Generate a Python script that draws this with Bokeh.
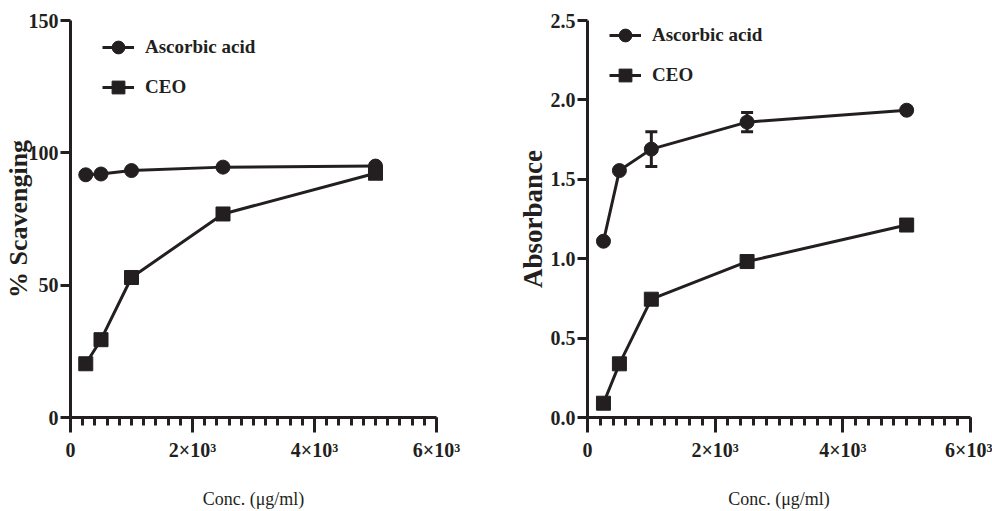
from bokeh.plotting import figure
from bokeh.layouts import row
from bokeh.models import Range1d, FixedTicker, Whisker, ColumnDataSource, TeeHead, Legend, LegendItem
from bokeh.embed import file_html
from bokeh.resources import INLINE

# ---- data ----
conc = [250, 500, 1000, 2500, 5000]
scav_aa = [91.7, 92.0, 93.3, 94.6, 95.0]
scav_ceo = [20.3, 29.4, 52.9, 76.9, 92.3]
abs_aa = [1.11, 1.555, 1.69, 1.86, 1.935]
abs_aa_err = [0.0, 0.0, 0.11, 0.06, 0.0]
abs_ceo = [0.09, 0.338, 0.745, 0.982, 1.212]

x_ticks = [0, 2000, 4000, 6000]
x_tick_labels = ["0", "2×10³", "4×10³", "6×10³"]
x_minor = list(range(0, 6001, 200))
left_yticks = [0, 50, 100, 150]
left_ylabels = ["0", "50", "100", "150"]
right_yticks = [0.0, 0.5, 1.0, 1.5, 2.0, 2.5]
right_ylabels = ["0.0", "0.5", "1.0", "1.5", "2.0", "2.5"]

INK = "#231f20"
FONT = "Liberation Serif"


def style(p, yticks, ylabels, ylabel, ylabel_size, ylabel_standoff):
    p.xaxis.ticker = FixedTicker(ticks=x_ticks, minor_ticks=x_minor)
    p.xaxis.major_label_overrides = {t: l for t, l in zip(x_ticks, x_tick_labels)}
    p.yaxis.ticker = FixedTicker(ticks=yticks, minor_ticks=[])
    p.yaxis.major_label_overrides = {t: l for t, l in zip(yticks, ylabels)}
    for ax in (p.xaxis[0], p.yaxis[0]):
        ax.axis_line_color = INK
        ax.axis_line_width = 3
        ax.major_tick_line_color = INK
        ax.major_tick_line_width = 3
        ax.minor_tick_line_color = INK
        ax.minor_tick_line_width = 3
        ax.major_tick_in = 0
        ax.minor_tick_in = 0
        ax.major_label_text_font = FONT
        ax.major_label_text_font_style = "bold"
        ax.major_label_text_font_size = "20px"
        ax.major_label_text_color = INK
        ax.axis_label_text_font = FONT
        ax.axis_label_text_color = INK
    p.xaxis.major_tick_out = 15
    p.xaxis.minor_tick_out = 8
    p.xaxis.major_label_standoff = 6
    p.xaxis.axis_label = "Conc. (μg/ml)"
    p.xaxis.axis_label_text_font_style = "normal"
    p.xaxis.axis_label_text_font_size = "18px"
    p.xaxis.axis_label_standoff = 25
    p.yaxis.major_tick_out = 10
    p.yaxis.minor_tick_out = 0
    p.yaxis.major_label_standoff = 2
    p.yaxis.axis_label = ylabel
    p.yaxis.axis_label_text_font_style = "bold"
    p.yaxis.axis_label_text_font_size = ylabel_size
    p.yaxis.axis_label_standoff = ylabel_standoff
    p.xgrid.visible = False
    p.ygrid.visible = False
    p.outline_line_color = None


def add_series(p, x, y_aa, y_ceo, loc):
    l1 = p.line(x, y_aa, line_color=INK, line_width=3)
    s1 = p.scatter(x, y_aa, marker="circle", size=14, fill_color=INK, line_color=INK)
    l2 = p.line(x, y_ceo, line_color=INK, line_width=3)
    s2 = p.scatter(x, y_ceo, marker="square", size=14, fill_color=INK, line_color=INK)
    leg = Legend(items=[LegendItem(label="Ascorbic acid", renderers=[l1, s1]),
                        LegendItem(label="CEO", renderers=[l2, s2])],
                 location=loc, margin=0, padding=0, spacing=6,
                 glyph_width=32, glyph_height=34, label_height=34, label_standoff=11,
                 background_fill_alpha=0, border_line_alpha=0,
                 label_text_font=FONT, label_text_font_style="bold",
                 label_text_font_size="19px", label_text_color=INK,
                 label_text_baseline="middle")
    p.add_layout(leg, "center")


left = figure(width=500, height=511, output_backend="svg", toolbar_location=None,
              x_range=Range1d(0, 6000), y_range=Range1d(0, 150),
              min_border_left=70, min_border_right=64, min_border_top=20, min_border_bottom=94)
style(left, left_yticks, left_ylabels, "% Scavenging", "26px", -7)
add_series(left, conc, scav_aa, scav_ceo, (32, 313))

right = figure(width=492, height=511, output_backend="svg", toolbar_location=None,
               x_range=Range1d(0, 6000), y_range=Range1d(0, 2.5),
               min_border_left=87, min_border_right=22, min_border_top=20, min_border_bottom=94)
style(right, right_yticks, right_ylabels, "Absorbance", "27px", 0)
ex = [x for x, e in zip(conc, abs_aa_err) if e > 0]
eu = [y + e for y, e in zip(abs_aa, abs_aa_err) if e > 0]
el = [y - e for y, e in zip(abs_aa, abs_aa_err) if e > 0]
src = ColumnDataSource(data=dict(x=ex, upper=eu, lower=el))
right.add_layout(Whisker(source=src, base="x", upper="upper", lower="lower",
                         line_color=INK, line_width=3,
                         upper_head=TeeHead(size=12, line_width=3, line_color=INK),
                         lower_head=TeeHead(size=12, line_width=3, line_color=INK)))
add_series(right, conc, abs_aa, abs_ceo, (22, 325))

layout = row(left, right)
open("out.html", "w").write(file_html(layout, INLINE))
